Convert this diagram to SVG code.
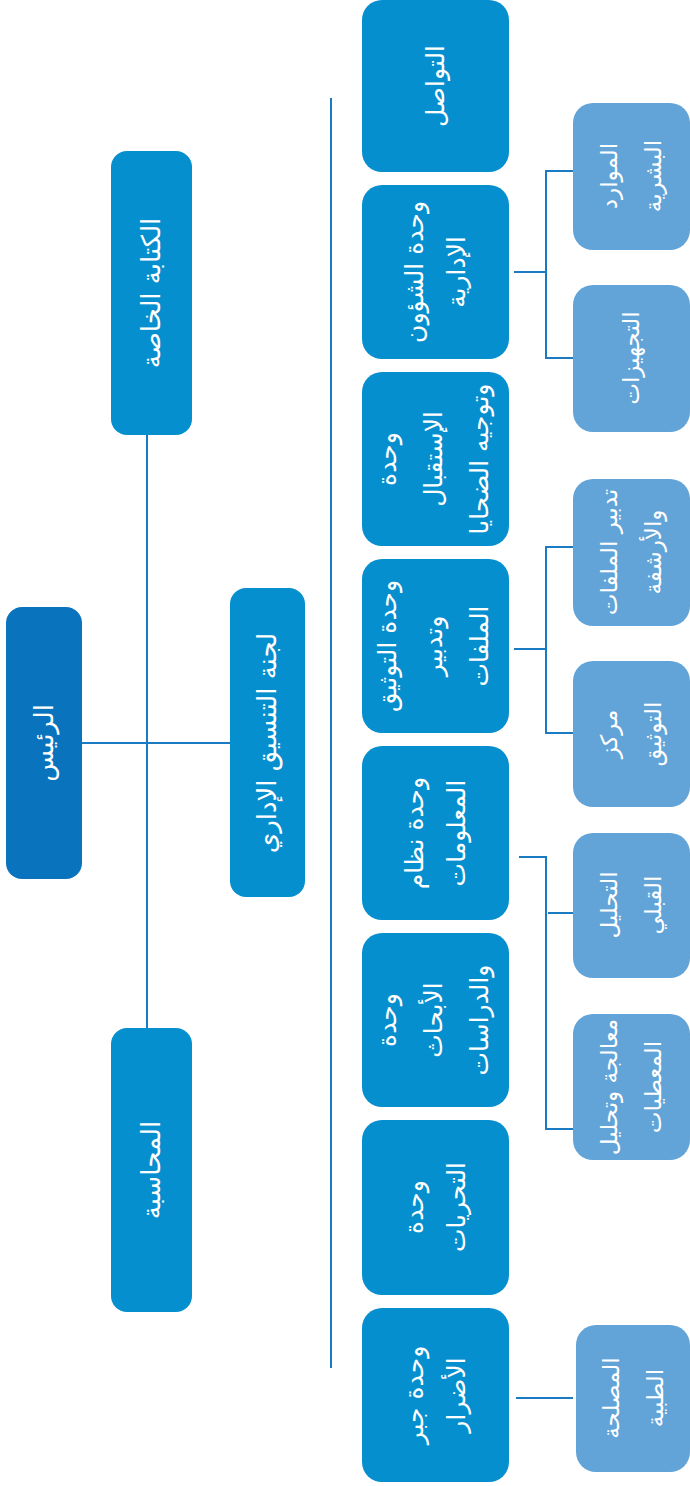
<svg xmlns="http://www.w3.org/2000/svg" width="690" height="1486" viewBox="0 0 690 1486">
  <style>
    .root { fill: #0A73BE; }
    .unit { fill: #058FCF; }
    .sub { fill: #62A3D8; }
    .link { stroke: #1A7AC2; stroke-width: 2; fill: none; }
    text { font-family: "DejaVu Sans", sans-serif; fill: #FFFFFF; text-anchor: middle; dominant-baseline: central; }
    .t1 { font-size: 26px; }
    .t2 { font-size: 25px; }
    .t3 { font-size: 23px; }
  </style>

  <!-- connectors -->
  <g id="connectors">
    <line class="link" x1="82" y1="743" x2="230" y2="743"/>
    <line class="link" x1="147" y1="435" x2="147" y2="1028"/>
    <line class="link" x1="331" y1="98" x2="331" y2="1368"/>
    <!-- administrative affairs -->
    <path class="link" d="M514 272 H546 M573 171 H546 V358 H573"/>
    <!-- documentation -->
    <path class="link" d="M514 649 H546 M573 547 H546 V733 H573"/>
    <!-- information system -->
    <path class="link" d="M519 857 H546 V1129 H573 M548 913 H573"/>
    <!-- reparation -->
    <line class="link" x1="516" y1="1398" x2="573" y2="1398"/>
  </g>

  <!-- level 0/1 -->
  <g id="president">
    <rect class="root" x="6" y="607" width="76" height="272" rx="16"/>
    <text class="t1" transform="translate(44,743) rotate(-90)">الرئيس</text>
  </g>
  <g id="private-office">
    <rect class="unit" x="111" y="151" width="81" height="284" rx="16"/>
    <text class="t1" transform="translate(151,293) rotate(-90)">الكتابة الخاصة</text>
  </g>
  <g id="accounting">
    <rect class="unit" x="111" y="1028" width="81" height="284" rx="16"/>
    <text class="t1" transform="translate(151,1170) rotate(-90)">المحاسبة</text>
  </g>
  <g id="coordination-committee">
    <rect class="unit" x="230" y="588" width="75" height="309" rx="16"/>
    <text class="t1" transform="translate(267,743) rotate(-90)">لجنة التنسيق الإداري</text>
  </g>

  <!-- units -->
  <g id="communication">
    <rect class="unit" x="362" y="0" width="147" height="172" rx="20"/>
    <text class="t2" transform="translate(435,86) rotate(-90)">التواصل</text>
  </g>
  <g id="admin-affairs">
    <rect class="unit" x="362" y="185" width="147" height="174" rx="20"/>
    <text class="t2" transform="translate(435,272) rotate(-90)"><tspan x="0" y="-21">وحدة الشؤون</tspan><tspan x="0" y="21">الإدارية</tspan></text>
  </g>
  <g id="reception">
    <rect class="unit" x="362" y="372" width="147" height="174" rx="20"/>
    <text class="t2" transform="translate(433,459) rotate(-90)"><tspan x="0" y="-46">وحدة</tspan><tspan x="0" y="0">الإستقبال</tspan><tspan x="0" y="46">وتوجيه الضحايا</tspan></text>
  </g>
  <g id="documentation">
    <rect class="unit" x="362" y="559" width="147" height="174" rx="20"/>
    <text class="t2" transform="translate(433,646) rotate(-90)"><tspan x="0" y="-46">وحدة التوثيق</tspan><tspan x="0" y="0">وتدبير</tspan><tspan x="0" y="46">الملفات</tspan></text>
  </g>
  <g id="information-system">
    <rect class="unit" x="362" y="746" width="147" height="174" rx="20"/>
    <text class="t2" transform="translate(435,833) rotate(-90)"><tspan x="0" y="-21">وحدة نظام</tspan><tspan x="0" y="21">المعلومات</tspan></text>
  </g>
  <g id="research">
    <rect class="unit" x="362" y="933" width="147" height="174" rx="20"/>
    <text class="t2" transform="translate(433,1020) rotate(-90)"><tspan x="0" y="-46">وحدة</tspan><tspan x="0" y="0">الأبحاث</tspan><tspan x="0" y="46">والدراسات</tspan></text>
  </g>
  <g id="investigations">
    <rect class="unit" x="362" y="1120" width="147" height="175" rx="20"/>
    <text class="t2" transform="translate(435,1207) rotate(-90)"><tspan x="0" y="-21">وحدة</tspan><tspan x="0" y="21">التحريات</tspan></text>
  </g>
  <g id="reparation">
    <rect class="unit" x="362" y="1308" width="147" height="174" rx="20"/>
    <text class="t2" transform="translate(435,1395) rotate(-90)"><tspan x="0" y="-21">وحدة جبر</tspan><tspan x="0" y="21">الأضرار</tspan></text>
  </g>

  <!-- sub-units -->
  <g id="human-resources">
    <rect class="sub" x="573" y="103" width="117" height="147" rx="20"/>
    <text class="t3" transform="translate(631,176) rotate(-90)"><tspan x="0" y="-22">الموارد</tspan><tspan x="0" y="22">البشرية</tspan></text>
  </g>
  <g id="equipment">
    <rect class="sub" x="573" y="285" width="117" height="147" rx="20"/>
    <text class="t3" transform="translate(631,358) rotate(-90)">التجهيزات</text>
  </g>
  <g id="archiving">
    <rect class="sub" x="573" y="479" width="117" height="147" rx="20"/>
    <text class="t3" transform="translate(631,552) rotate(-90)"><tspan x="0" y="-22">تدبير الملفات</tspan><tspan x="0" y="22">والأرشفة</tspan></text>
  </g>
  <g id="documentation-center">
    <rect class="sub" x="573" y="661" width="117" height="146" rx="20"/>
    <text class="t3" transform="translate(631,734) rotate(-90)"><tspan x="0" y="-22">مركز</tspan><tspan x="0" y="22">التوثيق</tspan></text>
  </g>
  <g id="preliminary-analysis">
    <rect class="sub" x="573" y="833" width="117" height="145" rx="20"/>
    <text class="t3" transform="translate(631,905) rotate(-90)"><tspan x="0" y="-22">التحليل</tspan><tspan x="0" y="22">القبلي</tspan></text>
  </g>
  <g id="data-processing">
    <rect class="sub" x="573" y="1014" width="117" height="146" rx="20"/>
    <text class="t3" transform="translate(631,1087) rotate(-90)"><tspan x="0" y="-22">معالجة وتحليل</tspan><tspan x="0" y="22">المعطيات</tspan></text>
  </g>
  <g id="medical-service">
    <rect class="sub" x="576" y="1325" width="114" height="147" rx="20"/>
    <text class="t3" transform="translate(633,1398) rotate(-90)"><tspan x="0" y="-22">المصلحة</tspan><tspan x="0" y="22">الطبية</tspan></text>
  </g>
</svg>
